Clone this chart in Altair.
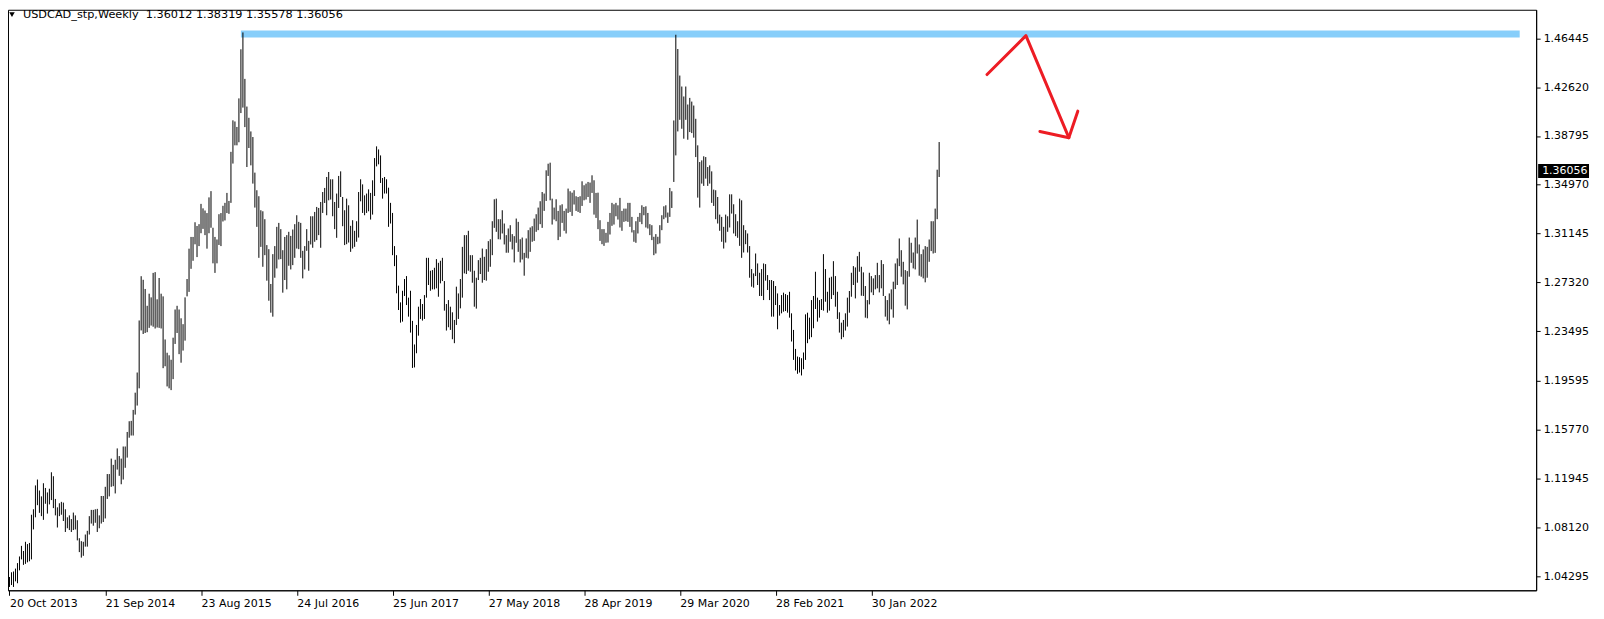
import altair as alt
import pandas as pd

# ---- weekly bar data (high / low), weeks counted from 20 Oct 2013 ----
highs = [
    1.0422, 1.0459, 1.0465, 1.0488, 1.0531, 1.0583, 1.0666, 1.0626, 1.0698, 1.0680,
    1.0689, 1.0910, 1.0953, 1.1140, 1.1186, 1.1100, 1.1054, 1.1157, 1.1120, 1.1085,
    1.1114, 1.1243, 1.1212, 1.1034, 1.0968, 1.1000, 1.1011, 1.1005, 1.0953, 1.0890,
    1.0905, 1.0876, 1.0927, 1.0905, 1.0867, 1.0726, 1.0703, 1.0698, 1.0755, 1.0784,
    1.0899, 1.0948, 1.0948, 1.0953, 1.0956, 1.0905, 1.1057, 1.1057, 1.1129, 1.1229,
    1.1229, 1.1350, 1.1301, 1.1341, 1.1430, 1.1370, 1.1350, 1.1445, 1.1445, 1.1559,
    1.1643, 1.1646, 1.1732, 1.1867, 1.2025, 1.2433, 1.2780, 1.2752, 1.2680, 1.2548,
    1.2643, 1.2614, 1.2806, 1.2812, 1.2599, 1.2766, 1.2643, 1.2622, 1.2284, 1.2180,
    1.2160, 1.2125, 1.2298, 1.2519, 1.2548, 1.2519, 1.2450, 1.2404, 1.2614, 1.2758,
    1.2996, 1.3088, 1.3088, 1.3203, 1.3174, 1.3188, 1.3347, 1.3312, 1.3295, 1.3275,
    1.3398, 1.3447, 1.3160, 1.3088, 1.3068, 1.3266, 1.3275, 1.3332, 1.3355, 1.3433,
    1.3370, 1.3755, 1.4002, 1.3993, 1.3950, 1.4174, 1.4559, 1.4691,
    1.4327, 1.4110, 1.4022, 1.3915, 1.3871, 1.3592, 1.3454, 1.3407, 1.3297, 1.3289,
    1.3227, 1.3024, 1.2992, 1.2719, 1.2953, 1.3016, 1.3167, 1.3198, 1.3149, 1.2984,
    1.3088, 1.3102, 1.3128, 1.3096, 1.3146, 1.3188, 1.3258, 1.3206, 1.3198, 1.2979,
    1.3016, 1.3149, 1.3057, 1.3250, 1.3250, 1.3284, 1.3323, 1.3315, 1.3362, 1.3440,
    1.3472, 1.3558, 1.3597, 1.3540, 1.3540, 1.3362, 1.3428, 1.3566, 1.3602, 1.3401,
    1.3297, 1.3388, 1.3336, 1.3175, 1.3219, 1.3136, 1.3211, 1.3440, 1.3540, 1.3500,
    1.3414, 1.3428, 1.3461, 1.3433, 1.3532, 1.3706, 1.3798, 1.3774, 1.3727, 1.3550,
    1.3558, 1.3540, 1.3474, 1.3355, 1.3276, 1.3016, 1.2945, 1.2706, 1.2575, 1.2666,
    1.2758, 1.2781, 1.2612, 1.2666, 1.2430, 1.2245, 1.2398, 1.2541, 1.2601, 1.2562,
    1.2632, 1.2924, 1.2924, 1.2823, 1.2828, 1.2846, 1.2914, 1.2885, 1.2901, 1.2924,
    1.2742, 1.2562, 1.2593, 1.2541, 1.2497, 1.2437, 1.2698, 1.2645, 1.2758, 1.3010,
    1.3102,
    1.3102, 1.3136, 1.2945, 1.2945, 1.2823, 1.2768, 1.2906, 1.2924, 1.2997, 1.2932,
    1.2992, 1.3055, 1.3070, 1.3211, 1.3383, 1.3388, 1.3227, 1.3227, 1.3297, 1.3193,
    1.3102, 1.3154, 1.3180, 1.3110, 1.3094, 1.3232, 1.3206, 1.3070, 1.3083, 1.2963,
    1.3076, 1.3141, 1.3162, 1.3172, 1.3232, 1.3266, 1.3318, 1.3368, 1.3440, 1.3428,
    1.3610, 1.3662, 1.3670, 1.3388, 1.3318, 1.3383, 1.3292, 1.3336, 1.3344, 1.3292,
    1.3310, 1.3467, 1.3446, 1.3435, 1.3454, 1.3407, 1.3401, 1.3407, 1.3524, 1.3493,
    1.3506, 1.3519, 1.3514, 1.3571, 1.3532, 1.3433, 1.3435, 1.3219, 1.3149, 1.3149,
    1.3120, 1.3206, 1.3276, 1.3355, 1.3344, 1.3355, 1.3336, 1.3394, 1.3292, 1.3310,
    1.3310, 1.3355, 1.3355, 1.3245, 1.3141, 1.3211, 1.3245, 1.3276, 1.3336, 1.3323,
    1.3328, 1.3276, 1.3188, 1.3180, 1.3089, 1.3110, 1.3089, 1.3180, 1.3258, 1.3328,
    1.3336, 1.3279, 1.3472, 1.3446, 1.4001, 1.4673, 1.4561, 1.4353, 1.4267, 1.4189,
    1.4267, 1.4126, 1.4178, 1.4149, 1.4118,
    1.4014, 1.3806, 1.3675, 1.3688, 1.3720, 1.3714, 1.3636, 1.3649, 1.3602, 1.3459,
    1.3454, 1.3401, 1.3263, 1.3245, 1.3167, 1.3263, 1.3250, 1.3422, 1.3422, 1.3344,
    1.3266, 1.3211, 1.3388, 1.3375, 1.3180, 1.3141, 1.3115, 1.3016, 1.2836, 1.2802,
    1.2958, 1.2880, 1.2807, 1.2836, 1.2880, 1.2875, 1.2789, 1.2750, 1.2750, 1.2742,
    1.2703, 1.2645, 1.2554, 1.2632, 1.2651, 1.2640, 1.2632, 1.2658, 1.2489, 1.2359,
    1.2210, 1.2150, 1.2145, 1.2137, 1.2182, 1.2481, 1.2494, 1.2455, 1.2593, 1.2625,
    1.2815, 1.2612, 1.2593, 1.2601, 1.2953, 1.2836, 1.2658, 1.2768, 1.2776, 1.2898,
    1.2781, 1.2658, 1.2497, 1.2416, 1.2437, 1.2489, 1.2612, 1.2664, 1.2807, 1.2859,
    1.2849, 1.2937, 1.2971, 1.2854, 1.2810, 1.2703, 1.2593, 1.2807, 1.2781, 1.2763,
    1.2789, 1.2885, 1.2789, 1.2906, 1.2875, 1.2625, 1.2593, 1.2645, 1.2677, 1.2737,
    1.2880, 1.2919, 1.3076, 1.2984, 1.2893, 1.2828, 1.2820, 1.3083, 1.3042, 1.2966,
    1.3083, 1.3224, 1.3029, 1.2953, 1.2990, 1.3016, 1.3010, 1.3068, 1.3211, 1.3211,
    1.3310, 1.3615, 1.38319,
]

lows = [
    1.0344, 1.0359, 1.0344, 1.0388, 1.0373, 1.0474, 1.0560, 1.0517, 1.0525, 1.0537,
    1.0545, 1.0560, 1.0795, 1.0890, 1.0985, 1.0925, 1.0899, 1.0870, 1.0996, 1.0919,
    1.0991, 1.1025, 1.0962, 1.0905, 1.0810, 1.0899, 1.0910, 1.0861, 1.0775, 1.0804,
    1.0790, 1.0775, 1.0790, 1.0795, 1.0709, 1.0617, 1.0574, 1.0588, 1.0660, 1.0660,
    1.0755, 1.0841, 1.0824, 1.0847, 1.0775, 1.0804, 1.0841, 1.0853, 1.0881, 1.1034,
    1.1054, 1.1129, 1.1134, 1.1077, 1.1264, 1.1215, 1.1149, 1.1186, 1.1278, 1.1358,
    1.1514, 1.1531, 1.1531, 1.1695, 1.1766, 1.1901, 1.2355, 1.2327, 1.2335, 1.2341,
    1.2375, 1.2393, 1.2384, 1.2370, 1.2378, 1.2375, 1.2370, 1.2059, 1.2074, 1.1916,
    1.1901, 1.1887, 1.1973, 1.2249, 1.2335, 1.2169, 1.2102, 1.2197, 1.2275, 1.2622,
    1.2657, 1.2838, 1.2901, 1.3030, 1.2930, 1.3016, 1.3117, 1.3151, 1.3102, 1.2996,
    1.3117, 1.3160, 1.2881, 1.2806, 1.2881, 1.3025, 1.3016, 1.3209, 1.3217, 1.3275,
    1.3269, 1.3355, 1.3663, 1.3806, 1.3806, 1.3830, 1.4059, 1.4102,
    1.3949, 1.3636, 1.3785, 1.3649, 1.3506, 1.3318, 1.3167, 1.2924, 1.3010, 1.2854,
    1.2945, 1.2745, 1.2588, 1.2494, 1.2463, 1.2768, 1.2841, 1.2911, 1.2914, 1.2651,
    1.2750, 1.2677, 1.2862, 1.2833, 1.2867, 1.2924, 1.2997, 1.2992, 1.2924, 1.2763,
    1.2833, 1.2979, 1.2823, 1.3029, 1.3003, 1.3050, 1.3063, 1.3102, 1.3003, 1.3276,
    1.3354, 1.3258, 1.3375, 1.3381, 1.3250, 1.3149, 1.3081, 1.3315, 1.3401, 1.3172,
    1.3024, 1.3031, 1.3044, 1.2971, 1.2997, 1.3010, 1.3050, 1.3083, 1.3367, 1.3276,
    1.3258, 1.3276, 1.3289, 1.3224, 1.3263, 1.3409, 1.3641, 1.3657, 1.3511, 1.3388,
    1.3428, 1.3428, 1.3167, 1.3193, 1.2945, 1.2859, 1.2646, 1.2515, 1.2416, 1.2424,
    1.2625, 1.2554, 1.2463, 1.2338, 1.2061, 1.2065, 1.2176, 1.2314, 1.2445, 1.2432,
    1.2445, 1.2612, 1.2711, 1.2666, 1.2677, 1.2677, 1.2685, 1.2619, 1.2724, 1.2742,
    1.2510, 1.2354, 1.2380, 1.2359, 1.2286, 1.2255, 1.2398, 1.2445, 1.2528, 1.2612,
    1.2802,
    1.2797, 1.2823, 1.2815, 1.2729, 1.2541, 1.2526, 1.2750, 1.2797, 1.2729, 1.2750,
    1.2745, 1.2815, 1.2854, 1.2945, 1.3159, 1.3128, 1.3070, 1.3068, 1.3115, 1.3029,
    1.2964, 1.2964, 1.3050, 1.2990, 1.2888, 1.3042, 1.2971, 1.2888, 1.2911, 1.2784,
    1.2924, 1.2919, 1.2971, 1.3050, 1.3057, 1.3128, 1.3141, 1.3188, 1.3159, 1.3292,
    1.3370, 1.3566, 1.3375, 1.3185, 1.3224, 1.3211, 1.3063, 1.3089, 1.3198, 1.3136,
    1.3115, 1.3276, 1.3284, 1.3253, 1.3342, 1.3292, 1.3284, 1.3276, 1.3331, 1.3375,
    1.3381, 1.3401, 1.3355, 1.3433, 1.3263, 1.3237, 1.3149, 1.3057, 1.3031, 1.3018,
    1.3042, 1.3044, 1.3107, 1.3175, 1.3185, 1.3250, 1.3224, 1.3162, 1.3136, 1.3206,
    1.3211, 1.3206, 1.3167, 1.3123, 1.3050, 1.3042, 1.3115, 1.3206, 1.3188, 1.3258,
    1.3162, 1.3154, 1.3102, 1.3063, 1.2945, 1.2958, 1.3031, 1.3037, 1.3141, 1.3227,
    1.3240, 1.3198, 1.3245, 1.3315, 1.3519, 1.3727, 1.3915, 1.4006, 1.3936, 1.3858,
    1.4006, 1.3850, 1.3910, 1.3902, 1.3866,
    1.3714, 1.3396, 1.3318, 1.3506, 1.3488, 1.3545, 1.3488, 1.3506, 1.3355, 1.3331,
    1.3227, 1.3193, 1.3136, 1.3050, 1.2997, 1.3044, 1.3128, 1.3162, 1.3271, 1.3115,
    1.3094, 1.3081, 1.3018, 1.2924, 1.2966, 1.3031, 1.2966, 1.2768, 1.2698, 1.2690,
    1.2781, 1.2711, 1.2625, 1.2625, 1.2593, 1.2745, 1.2672, 1.2593, 1.2463, 1.2463,
    1.2554, 1.2364, 1.2471, 1.2489, 1.2502, 1.2507, 1.2494, 1.2455, 1.2268, 1.2124,
    1.2041, 1.2015, 1.2025, 1.2002, 1.2051, 1.2124, 1.2255, 1.2286, 1.2302, 1.2372,
    1.2523, 1.2424, 1.2455, 1.2515, 1.2510, 1.2580, 1.2494, 1.2510, 1.2601, 1.2632,
    1.2541, 1.2445, 1.2338, 1.2286, 1.2302, 1.2354, 1.2385, 1.2494, 1.2619, 1.2711,
    1.2606, 1.2729, 1.2815, 1.2627, 1.2625, 1.2455, 1.2450, 1.2559, 1.2653, 1.2632,
    1.2677, 1.2685, 1.2653, 1.2685, 1.2625, 1.2463, 1.2432, 1.2403, 1.2520, 1.2455,
    1.2679, 1.2711, 1.2859, 1.2776, 1.2716, 1.2549, 1.2520, 1.2776, 1.2885, 1.2841,
    1.2833, 1.2958, 1.2784, 1.2776, 1.2763, 1.2732, 1.2768, 1.2893, 1.2977, 1.2958,
    1.2963, 1.3227, 1.35578,
]

weeks = list(range(len(highs)))

# ---- axis ticks ----
x_tick_weeks = [0, 48, 96, 144, 192, 240, 288, 336, 384, 432]
x_tick_labels = ["20 Oct 2013", "21 Sep 2014", "23 Aug 2015", "24 Jul 2016", "25 Jun 2017",
                 "27 May 2018", "28 Apr 2019", "29 Mar 2020", "28 Feb 2021", "30 Jan 2022"]
y_tick_values = [1.04295, 1.08120, 1.11945, 1.15770, 1.19595, 1.23495,
                 1.27320, 1.31145, 1.34970, 1.38795, 1.42620, 1.46445]

# ---- drawn objects (week index, price) ----
resistance_weeks = [116, 757]
resistance_price = [1.4679]
arrow_weeks = [490, 509.5, 531, 516.5, 531, 535.5]
arrow_prices = [1.4361, 1.4666, 1.3866, 1.3915, 1.3866, 1.4074]
arrow_part = ["shaft", "shaft", "shaft", "head", "head", "head"]
arrow_seq = [0, 1, 2, 0, 1, 2]

header_text = ["USDCAD_stp,Weekly\u00a0 1.36012 1.38319 1.35578 1.36056"]
last_price = [1.36056]
last_price_label = ["1.36056"]

FONT = "DejaVu Sans"
W, H = 1532, 582

x_scale = alt.Scale(domain=[-0.75, 765.25], nice=False, zero=False)
y_scale = alt.Scale(domain=[1.03178, 1.48689], nice=False, zero=False)

label_expr = "".join(
    "datum.value == %d ? '%s' : " % (w, s) for w, s in zip(x_tick_weeks, x_tick_labels)
) + "''"

x_axis = alt.Axis(values=x_tick_weeks, labelExpr=label_expr, labelAlign="left",
                  labelBaseline="top", tickSize=5, labelPadding=2, labelFlush=False,
                  labelOverlap=False, grid=False, title=None)
y_axis = alt.Axis(orient="right", values=y_tick_values, format=".5f", tickSize=4,
                  labelPadding=3, labelBaseline="middle", labelOverlap=False,
                  labelFlush=False, grid=False, title=None)

bars_df = pd.DataFrame({"week": weeks, "high": highs, "low": lows})
res_df = pd.DataFrame({"w1": [resistance_weeks[0]], "w2": [resistance_weeks[1]],
                       "p": resistance_price})
arrow_df = pd.DataFrame({"week": arrow_weeks, "price": arrow_prices,
                         "part": arrow_part, "seq": arrow_seq})
tag_df = pd.DataFrame({"p": last_price, "t": last_price_label})
head_df = pd.DataFrame({"t": header_text})

resistance = alt.Chart(res_df).mark_rule(color="#87CEFA", strokeWidth=7, strokeCap="butt").encode(
    x=alt.X("w1:Q", scale=x_scale, axis=x_axis),
    x2="w2:Q",
    y=alt.Y("p:Q", scale=y_scale, axis=y_axis),
)

bars = alt.Chart(bars_df).mark_rule(color="black", strokeWidth=1).encode(
    x=alt.X("week:Q", scale=x_scale, axis=x_axis),
    y=alt.Y("low:Q", scale=y_scale, axis=y_axis),
    y2="high:Q",
)

arrow = alt.Chart(arrow_df).mark_line(color="#ED1C24", strokeWidth=3, strokeCap="round",
                                      strokeJoin="round").encode(
    x=alt.X("week:Q", scale=x_scale, axis=x_axis),
    y=alt.Y("price:Q", scale=y_scale, axis=y_axis),
    detail="part:N",
    order="seq:Q",
)

tag_box = alt.Chart(tag_df).mark_rule(color="black", strokeWidth=14, strokeCap="butt").encode(
    x=alt.value(W + 2), x2=alt.value(W + 53),
    y=alt.Y("p:Q", scale=y_scale, axis=y_axis),
)
tag_text = alt.Chart(tag_df).mark_text(color="white", align="left", baseline="middle",
                                       font=FONT, fontSize=11).encode(
    x=alt.value(W + 6),
    y=alt.Y("p:Q", scale=y_scale, axis=y_axis),
    text="t:N",
)

header = alt.Chart(head_df).mark_text(color="black", align="left", baseline="middle",
                                      font=FONT, fontSize=11.3).encode(
    x=alt.value(15), y=alt.value(5), text="t:N",
)
header_tri = alt.Chart(head_df).mark_point(shape="triangle-down", filled=True, color="black",
                                           size=30, opacity=1).encode(
    x=alt.value(4), y=alt.value(5),
)

chart = alt.layer(resistance, bars, arrow, tag_box, tag_text, header, header_tri).properties(
    width=W, height=H, padding=0, background="white",
).configure_view(stroke="black", strokeWidth=1).configure_axis(
    labelFont=FONT, labelFontSize=11, labelColor="black", domainColor="black",
    tickColor="black", domainWidth=1, tickWidth=1,
)

chart.save("out.html", embed_options={"renderer": "svg", "actions": False})
